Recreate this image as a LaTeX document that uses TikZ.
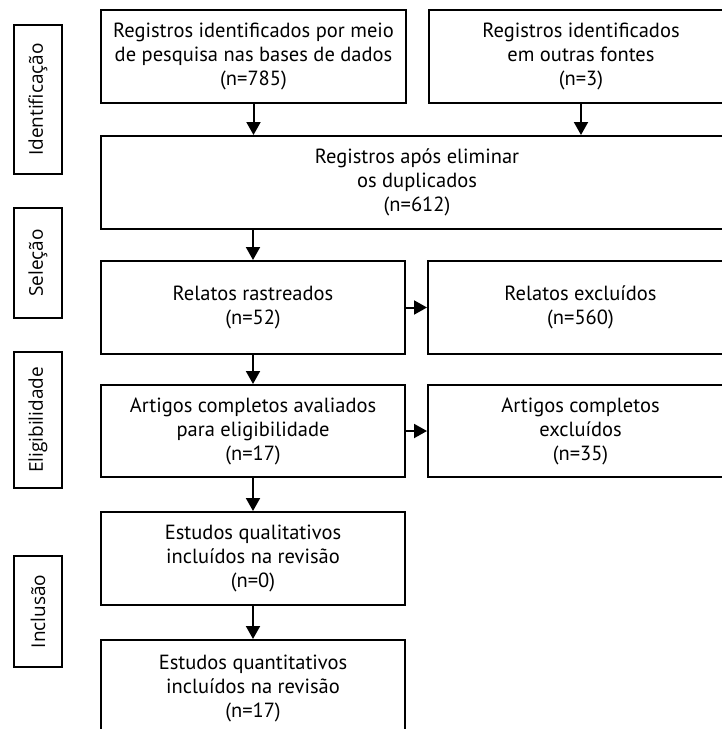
\documentclass[tikz,border=0pt]{standalone}
\usepackage{fontspec}
\setmainfont{PT Sans}
\newfontfamily\phasefont{Open Sans}
\usetikzlibrary{arrows.meta}
\tikzset{
	flowbox/.style={draw, line width=2pt, align=center, inner sep=0pt,
		font=\fontsize{20.5}{24}\selectfont},
	phasebox/.style={draw, line width=2pt, inner sep=0pt, rotate=90,
		minimum height=48pt, font=\phasefont\fontsize{19}{24}\selectfont},
	flowarrow/.style={line width=2pt, -{Triangle[width=14pt,length=13pt]}}
}

\begin{document}
\begin{tikzpicture}[x=1pt, y=-1pt]
		%%%%% START %%%%%
		\useasboundingbox (0, 0) rectangle (721, 729);
		
		% phases
		\node[phasebox, minimum width=149pt] (ident) at (38, 99.5) {Identificação};
		\node[phasebox, minimum width=110pt] (selec) at (38, 263) {Seleção};
		\node[phasebox, minimum width=136pt] (eleg) at (38, 420) {Eligibilidade};
		\node[phasebox, minimum width=111pt] (inclu) at (38, 611.5) {Inclusão};
		
		% identification
		\node[flowbox, minimum width=305pt, minimum height=93pt] (bases) at (253.5, 56.5)
			{Registros identificados por meio\\de pesquisa nas bases de dados\\(n=785)};
		\node[flowbox, minimum width=304pt, minimum height=93pt] (outras) at (581, 56.5)
			{Registros identificados\\em outras fontes\\(n=3)};
		\node[flowbox, minimum width=632pt, minimum height=93pt] (dupl) at (417, 182.5)
			{Registros após eliminar\\os duplicados\\(n=612)};
		
		% selection
		\node[flowbox, minimum width=304pt, minimum height=93pt] (rastr) at (253, 307.5)
			{Relatos rastreados\\(n=52)};
		\node[flowbox, minimum width=305pt, minimum height=93pt] (rexcl) at (580.5, 307.5)
			{Relatos excluídos\\(n=560)};
		
		% eligibility
		\node[flowbox, minimum width=304pt, minimum height=92pt] (aval) at (253, 431)
			{Artigos completos avaliados\\para eligibilidade\\(n=17)};
		\node[flowbox, minimum width=305pt, minimum height=92pt] (aexcl) at (580.5, 431)
			{Artigos completos\\excluídos\\(n=35)};
		
		% inclusion
		\node[flowbox, minimum width=304pt, minimum height=93pt] (quali) at (253, 558.5)
			{Estudos qualitativos\\incluídos na revisão\\(n=0)};
		\node[flowbox, minimum width=304pt, minimum height=96pt] (quanti) at (253, 688)
			{Estudos quantitativos\\incluídos na revisão\\(n=17)};
		
		% arrows
		\draw[flowarrow] (bases.south) -- (bases.south |- dupl.north);
		\draw[flowarrow] (outras.south) -- (outras.south |- dupl.north);
		\draw[flowarrow] (rastr.north |- dupl.south) -- (rastr.north);
		\draw[flowarrow] (rastr.east) -- (rexcl.west);
		\draw[flowarrow] (rastr.south) -- (aval.north);
		\draw[flowarrow] (aval.east) -- (aexcl.west);
		\draw[flowarrow] (aval.south) -- (quali.north);
		\draw[flowarrow] (quali.south) -- (quanti.north);
		%%%%% END %%%%%
	\end{tikzpicture}
\end{document}
